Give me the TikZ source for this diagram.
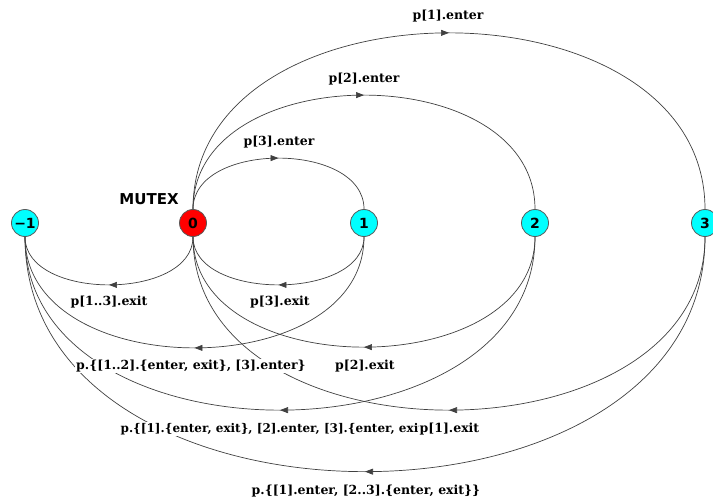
\documentclass[tikz,border=0pt]{standalone}
\usepackage{fontspec}
\setmainfont{DejaVu Serif}
\newfontfamily\statefont{DejaVu Sans}
\usetikzlibrary{arrows.meta,decorations.markings}
\definecolor{stateaqua}{RGB}{0,255,255}
\definecolor{statered}{RGB}{255,0,0}

\begin{document}
\begin{tikzpicture}[x=1pt,y=-1pt,
  state/.style={circle, draw=black!65, line width=0.8pt, fill=stateaqua,
    minimum size=27pt, inner sep=0pt,
    font=\statefont\bfseries\fontsize{14}{14}\selectfont},
  trans/.style={draw=black!75, line width=0.7pt, postaction={decorate},
    decoration={markings,
      mark=at position 0.5 with {\arrow{Triangle[length=8pt,width=6pt]}}}},
  lbl/.style={fill=white, inner sep=1pt,
    font=\bfseries\fontsize{12.5}{12.5}\selectfont}]
\useasboundingbox (0,0) rectangle (713,500);

% states
\node[state] (nm1) at (25,223) {−1};
\node[state, fill=statered] (n0) at (193,223) {0};
\node[state] (n1) at (364,223) {1};
\node[state] (n2) at (535,223) {2};
\node[state] (n3) at (705,223) {3};
\node[font=\statefont\bfseries\fontsize{15}{15}\selectfont] (mutex) at (149,199) {MUTEX};

% entering arcs above the row
\draw[trans] (n0.north) .. controls +(0,-68) and +(0,-68) .. (n1.north);
\draw[trans] (n0.north) .. controls +(0,-152) and +(0,-152) .. (n2.north);
\draw[trans] (n0.north) .. controls +(0,-235) and +(0,-235) .. (n3.north);

% leaving arcs below the row
\draw[trans] (n0.south) .. controls +(0,64) and +(0,64) .. (nm1.south);
\draw[trans] (n1.south) .. controls +(0,64) and +(0,64) .. (n0.south);
\draw[trans] (n1.south) .. controls +(0,148) and +(0,148) .. (nm1.south);
\draw[trans] (n2.south) .. controls +(0,147) and +(0,147) .. (n0.south);
\draw[trans] (n2.south) .. controls +(0,231) and +(0,231) .. (nm1.south);
\draw[trans] (n3.south) .. controls +(0,231) and +(0,231) .. (n0.south);
\draw[trans] (n3.south) .. controls +(0,313) and +(0,313) .. (nm1.south);

% transition labels (the label of 3 -> 0 is set on top of the end of 2 -> -1)
\node[lbl] (l1en) at (448,16) {p[1].enter};
\node[lbl] (l2en) at (364,79) {p[2].enter};
\node[lbl] (l3en) at (279,142) {p[3].enter};
\node[lbl] (lx13) at (109,302) {p[1..3].exit};
\node[lbl] (l3ex) at (280,302) {p[3].exit};
\node[lbl] (l12) at (191,366) {p.\{[1..2].\{enter, exit\}, [3].enter\}};
\node[lbl] (l2ex) at (365,366) {p[2].exit};
\node[lbl, font=\bfseries\fontsize{12}{12}\selectfont] (l123) at (280,429)
  {p.\{[1].\{enter, exit\}, [2].enter, [3].\{enter, exit\}\}};
\node[lbl, inner sep=0.5pt] (l1ex) at (449.5,429) {p[1].exit};
\node[lbl] (l23) at (366,491) {p.\{[1].enter, [2..3].\{enter, exit\}\}};
\end{tikzpicture}
\end{document}
